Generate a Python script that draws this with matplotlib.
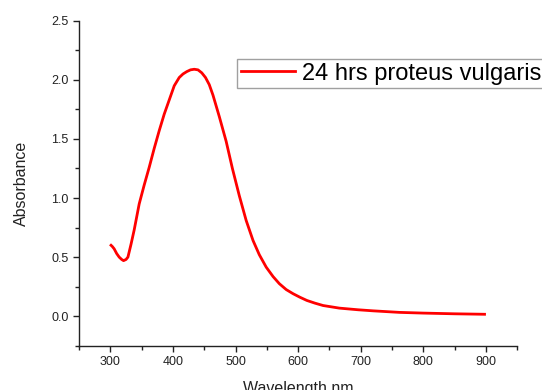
"""
UV-Vis absorbance spectrum of 24 hrs proteus vulgaris
"""
import numpy as np
import matplotlib.pyplot as plt
from matplotlib.ticker import MultipleLocator

# data
wavelength = [301, 303, 306, 310, 314, 318, 321, 325, 328, 333, 338, 342, 346, 354,
              362, 370, 378, 386, 394, 402, 410, 416, 422, 428, 434, 440, 446, 452,
              458, 464, 474, 485, 495, 506, 517, 528, 538, 549, 560, 570, 581, 592,
              603, 614, 627, 640, 666, 696, 720, 762, 800, 850, 898]
absorbance = [0.60, 0.59, 0.57, 0.53, 0.50, 0.48, 0.47, 0.48, 0.50, 0.61, 0.73, 0.84,
              0.95, 1.11, 1.26, 1.42, 1.57, 1.71, 1.83, 1.95, 2.02, 2.05, 2.07, 2.085,
              2.09, 2.085, 2.06, 2.02, 1.96, 1.87, 1.69, 1.48, 1.25, 1.02, 0.81, 0.64,
              0.52, 0.415, 0.335, 0.275, 0.225, 0.19, 0.16, 0.133, 0.11, 0.09, 0.068,
              0.054, 0.045, 0.032, 0.026, 0.02, 0.016]

plt.rcParams['font.family'] = ['Liberation Sans', 'DejaVu Sans']

fig = plt.figure(figsize=(5.42, 3.9), dpi=100)
ax = fig.add_axes([0.146, 0.1136, 0.808, 0.833])

ax.plot(wavelength, absorbance, color='#ff0000', lw=2, label='24 hrs proteus vulgaris')

ax.set_xlim(250, 950)
ax.set_ylim(-0.25, 2.5)
ax.xaxis.set_minor_locator(MultipleLocator(50))
ax.yaxis.set_minor_locator(MultipleLocator(0.25))
ax.set_xticks(range(300, 1000, 100))
ax.set_yticks(np.arange(0, 2.6, 0.5))
ax.yaxis.set_major_formatter(plt.FormatStrFormatter('%.1f'))

for side in ['top', 'right']:
    ax.spines[side].set_visible(False)
for side in ['left', 'bottom']:
    ax.spines[side].set_color('#222222')
    ax.spines[side].set_linewidth(1)
ax.tick_params(which='major', direction='out', length=4, width=1, colors='#222222', labelsize=9)
ax.tick_params(which='minor', direction='out', length=3, width=1, colors='#222222')

ax.set_xlabel('Wavelength nm', fontsize=11.5, color='#222222', labelpad=9)
ax.set_ylabel('Absorbance', fontsize=11.5, color='#222222', labelpad=16)

leg = fig.legend(loc='upper left', bbox_to_anchor=(237 / 542, 1 - 59 / 390),
                 fontsize=17, frameon=True, fancybox=False, handlelength=2.3,
                 handletextpad=0.3, borderpad=0.15, borderaxespad=0)
leg.get_frame().set_edgecolor('#888888')
leg.get_frame().set_linewidth(1)

plt.savefig('out.png', dpi=100)
